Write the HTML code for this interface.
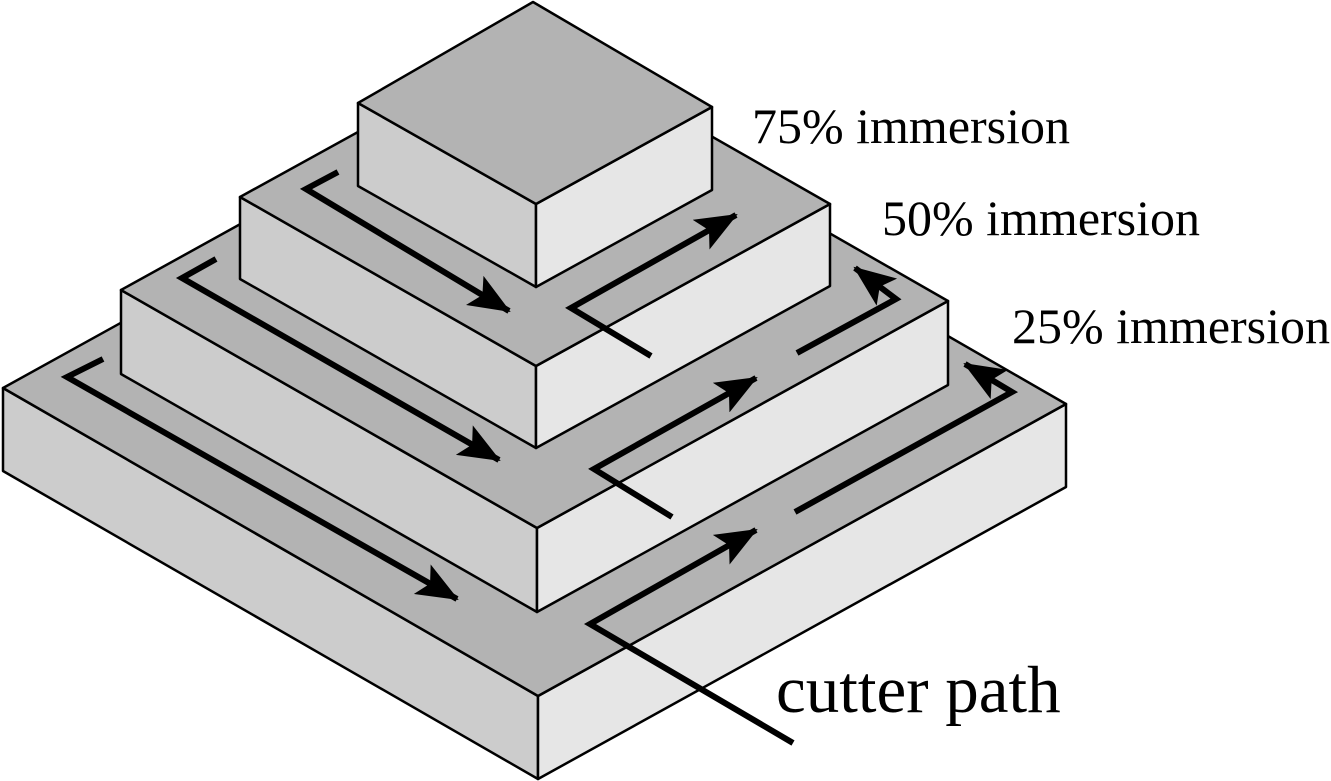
<!DOCTYPE html>
<html><head><meta charset="utf-8"><style>
html,body{margin:0;padding:0;background:#fff;}
svg{display:block;}
text{font-family:"Liberation Serif",serif;fill:#000;}
</style></head><body>
<svg width="1331" height="781" viewBox="0 0 1331 781" xmlns="http://www.w3.org/2000/svg">
<defs>
<marker id="ah" markerUnits="userSpaceOnUse" markerWidth="44" markerHeight="34" refX="40" refY="17" orient="auto">
<path d="M0,0 L42,17 L0,34 L9,17 Z" fill="#000"/>
</marker>
</defs>
<g stroke="#000" stroke-width="2.5" stroke-linejoin="round">
<polygon points="3,388 538,696 538,779 3,471" fill="#cccccc"/>
<polygon points="538,696 1066,404 1066,487 538,779" fill="#e6e6e6"/>
<polygon points="3,388 531,96 1066,404 538,696" fill="#b3b3b3"/>
<polygon points="121,290 537,528 537,612 121,374" fill="#cccccc"/>
<polygon points="537,528 948,301 948,385 537,612" fill="#e6e6e6"/>
<polygon points="121,290 532,63 948,301 537,528" fill="#b3b3b3"/>
<polygon points="240,197 536,366 536,448 240,279" fill="#cccccc"/>
<polygon points="536,366 830,204 830,286 536,448" fill="#e6e6e6"/>
<polygon points="240,197 534,35 830,204 536,366" fill="#b3b3b3"/>
<polygon points="358,103 536,204 536,287 358,186" fill="#cccccc"/>
<polygon points="536,204 712,107 712,190 536,287" fill="#e6e6e6"/>
<polygon points="358,103 533,2 712,107 536,204" fill="#b3b3b3"/>
</g>
<g stroke="#000" stroke-width="6" fill="none" stroke-linejoin="miter">
<polyline points="338,172 306,189 509,311" marker-end="url(#ah)"/>
<polyline points="651,356 571,308 736,215" marker-end="url(#ah)"/>
<polyline points="216,259 182,278 499,460" marker-end="url(#ah)"/>
<polyline points="672,517 594,469 756,378" marker-end="url(#ah)"/>
<polyline points="797,353 896,299 855,268" marker-end="url(#ah)"/>
<polyline points="103,359 67,377 457,599" marker-end="url(#ah)"/>
<polyline points="793,743 590,624 756,530" marker-end="url(#ah)"/>
<polyline points="795,512 1012,392 965,364" marker-end="url(#ah)"/>
</g>
<text x="752" y="143" font-size="50">75% immersion</text>
<text x="882" y="235" font-size="50">50% immersion</text>
<text x="1012" y="343" font-size="50">25% immersion</text>
<text x="776" y="712" font-size="67">cutter path</text>
</svg>
</body></html>
